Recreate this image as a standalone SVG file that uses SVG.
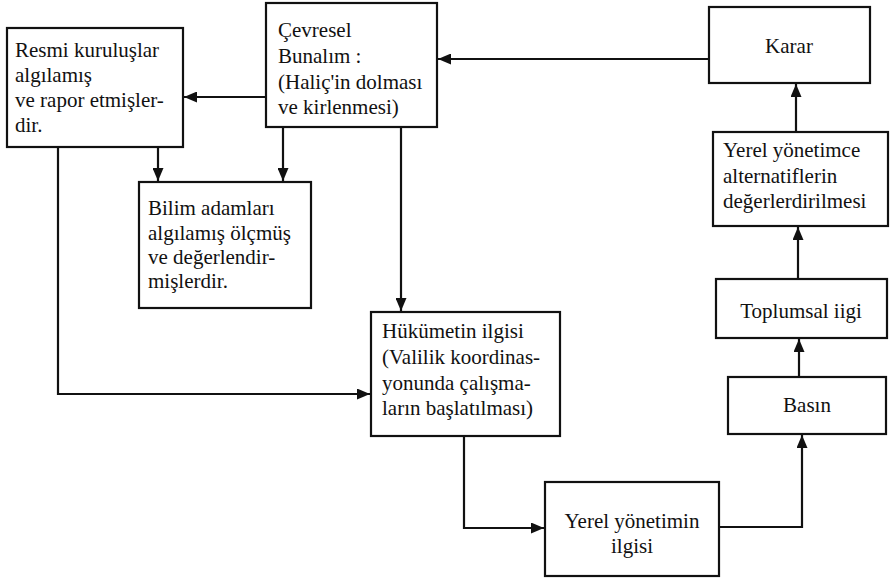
<svg xmlns="http://www.w3.org/2000/svg" width="893" height="580" viewBox="0 0 893 580">
<style>
.box{fill:#fff;stroke:#111;stroke-width:2.2}
.t{font-family:"Liberation Serif","Times New Roman","DejaVu Serif",serif;font-size:21px;fill:#111}
.c{text-anchor:middle}
.ln{fill:none;stroke:#111;stroke-width:2.2;marker-end:url(#ah)}
</style>
<defs>
<marker id="ah" markerUnits="userSpaceOnUse" markerWidth="13" markerHeight="11" refX="13" refY="5.5" orient="auto">
<path d="M0,0 L13,5.5 L0,11 Z" fill="#111"/>
</marker>
</defs>
<rect width="893" height="580" fill="#fff"/>
<g id="connectors">
<path class="ln" d="M709,59 H438"/>
<path class="ln" d="M266,97 H184"/>
<path class="ln" d="M158,147 V181"/>
<path class="ln" d="M283,127 V181"/>
<path class="ln" d="M401,127 V311"/>
<path class="ln" d="M58,147 V394 H370"/>
<path class="ln" d="M464,436 V528 H544"/>
<path class="ln" d="M719,527 H802 V435"/>
<path class="ln" d="M799,377 V339"/>
<path class="ln" d="M798,279 V227"/>
<path class="ln" d="M796,132 V84"/>
</g>
<g id="resmi">
<rect class="box" x="7" y="28" width="176" height="119"/>
<text class="t" x="15" y="57">Resmi kuruluşlar</text>
<text class="t" x="15" y="82">algılamış</text>
<text class="t" x="15" y="107">ve rapor etmişler-</text>
<text class="t" x="15" y="132">dir.</text>
</g>
<g id="cevresel">
<rect class="box" x="266" y="3" width="171" height="124"/>
<text class="t" x="278" y="37">Çevresel</text>
<text class="t" x="278" y="63">Bunalım :</text>
<text class="t" x="278" y="89">(Haliç'in dolması</text>
<text class="t" x="278" y="114">ve kirlenmesi)</text>
</g>
<g id="bilim">
<rect class="box" x="139" y="182" width="172" height="126"/>
<text class="t" x="148" y="215">Bilim adamları</text>
<text class="t" x="148" y="240">algılamış ölçmüş</text>
<text class="t" x="148" y="264">ve değerlendir-</text>
<text class="t" x="148" y="288">mişlerdir.</text>
</g>
<g id="hukumet">
<rect class="box" x="371" y="312" width="189" height="124"/>
<text class="t" x="382" y="338">Hükümetin ilgisi</text>
<text class="t" x="382" y="364">(Valilik koordinas-</text>
<text class="t" x="382" y="390">yonunda çalışma-</text>
<text class="t" x="382" y="415">ların başlatılması)</text>
</g>
<g id="yerel-ilgi">
<rect class="box" x="545" y="482" width="174" height="94"/>
<text class="t c" x="632" y="528">Yerel yönetimin</text>
<text class="t c" x="632" y="553">ilgisi</text>
</g>
<g id="basin">
<rect class="box" x="728" y="377" width="158" height="57"/>
<text class="t c" x="807" y="412">Basın</text>
</g>
<g id="toplumsal">
<rect class="box" x="716" y="279" width="171" height="59"/>
<text class="t c" x="801" y="318">Toplumsal iigi</text>
</g>
<g id="alternatif">
<rect class="box" x="713" y="132" width="175" height="94"/>
<text class="t" x="723" y="157">Yerel yönetimce</text>
<text class="t" x="723" y="183">alternatiflerin</text>
<text class="t" x="723" y="208">değerlerdirilmesi</text>
</g>
<g id="karar">
<rect class="box" x="709" y="7" width="161" height="76"/>
<text class="t c" x="789" y="53">Karar</text>
</g>
</svg>
